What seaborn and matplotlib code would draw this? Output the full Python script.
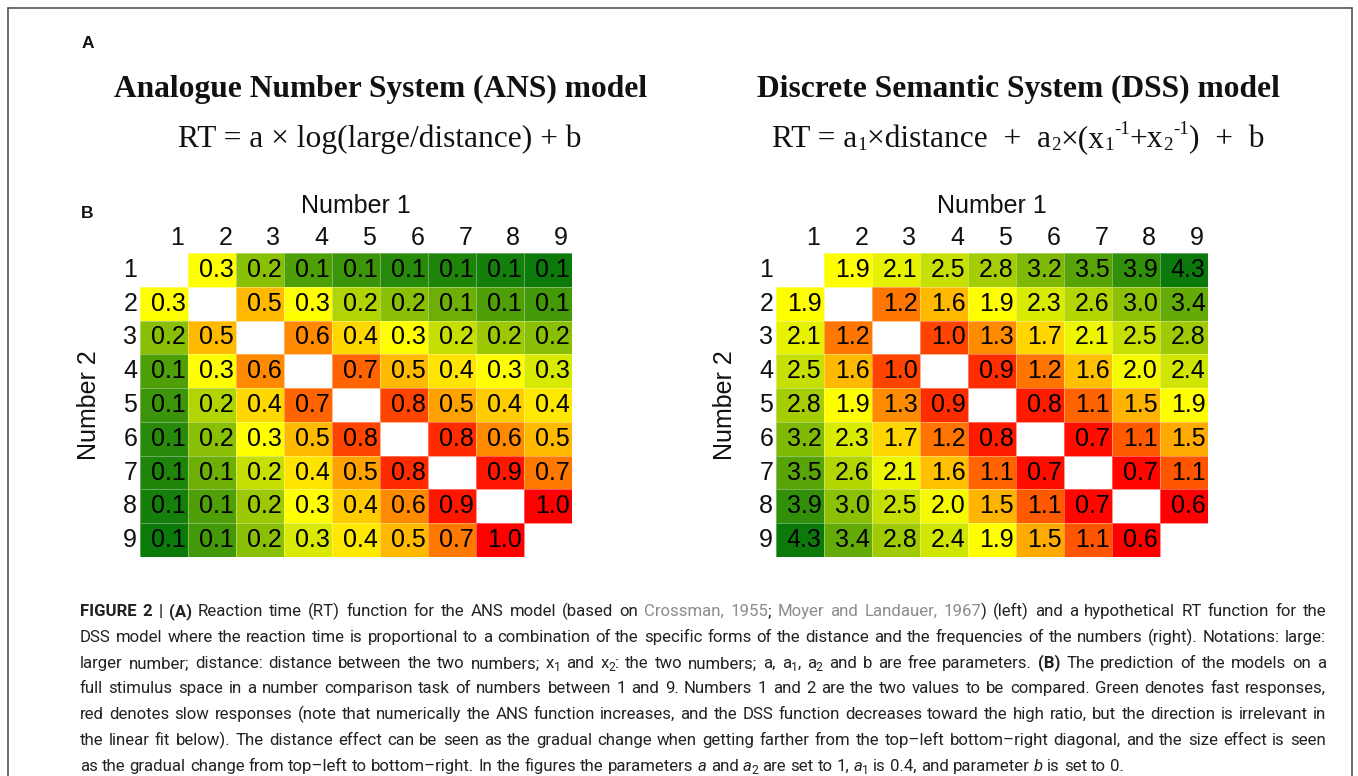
import numpy as np
import pandas as pd
import matplotlib
matplotlib.use("Agg")
import matplotlib.pyplot as plt
import seaborn as sns
from matplotlib.colors import LinearSegmentedColormap, TwoSlopeNorm
from matplotlib.transforms import IdentityTransform
from matplotlib.lines import Line2D
from matplotlib import font_manager

# ---------------- data ----------------
numbers = [1, 2, 3, 4, 5, 6, 7, 8, 9]
nan = np.nan

# ANS model prediction: rows = Number 2, columns = Number 1
ans_values = [
    [nan, 0.30, 0.18, 0.12, 0.10, 0.08, 0.07, 0.06, 0.05],
    [0.30, nan, 0.48, 0.30, 0.22, 0.18, 0.15, 0.12, 0.11],
    [0.18, 0.48, nan, 0.60, 0.40, 0.30, 0.24, 0.20, 0.18],
    [0.12, 0.30, 0.60, nan, 0.70, 0.48, 0.37, 0.30, 0.26],
    [0.10, 0.22, 0.40, 0.70, nan, 0.78, 0.54, 0.43, 0.36],
    [0.08, 0.18, 0.30, 0.48, 0.78, nan, 0.85, 0.60, 0.48],
    [0.07, 0.15, 0.24, 0.37, 0.54, 0.85, nan, 0.90, 0.65],
    [0.06, 0.12, 0.20, 0.30, 0.43, 0.60, 0.90, nan, 0.96],
    [0.05, 0.11, 0.18, 0.26, 0.36, 0.48, 0.65, 0.96, nan],
]

# DSS model prediction: rows = Number 2, columns = Number 1
dss_values = [
    [nan, 1.90, 2.13, 2.46, 2.80, 3.17, 3.54, 3.93, 4.31],
    [1.90, nan, 1.23, 1.56, 1.90, 2.27, 2.64, 3.03, 3.41],
    [2.13, 1.23, nan, 0.98, 1.33, 1.70, 2.08, 2.46, 2.84],
    [2.46, 1.56, 0.98, nan, 0.86, 1.22, 1.59, 1.98, 2.36],
    [2.80, 1.90, 1.33, 0.86, nan, 0.77, 1.14, 1.53, 1.91],
    [3.17, 2.27, 1.70, 1.22, 0.77, nan, 0.71, 1.09, 1.48],
    [3.54, 2.64, 2.08, 1.59, 1.14, 0.71, nan, 0.67, 1.06],
    [3.93, 3.03, 2.46, 1.98, 1.53, 1.09, 0.67, nan, 0.64],
    [4.31, 3.41, 2.84, 2.36, 1.91, 1.48, 1.06, 0.64, nan],
]

title_ans = "Analogue Number System (ANS) model"
title_dss = "Discrete Semantic System (DSS) model"
formula_ans = [("RT = a × log(large/distance) + b", "n")]
formula_dss = [("RT = a", "n"), ("1", "sub"), ("×distance  +  a", "n"), ("2", "sub"),
               ("×(x", "n"), ("1", "sub"), ("-1", "sup"), ("+x", "n"), ("2", "sub"),
               ("-1", "sup"), (")  +  b", "n")]
x_label = "Number 1"
y_label = "Number 2"

caption_lines = [
    "*FIGURE 2 | (A)* Reaction time (RT) function for the ANS model (based on ~Crossman, 1955~; ~Moyer and Landauer, 1967~) (left) and a hypothetical RT function for the",
    "DSS model where the reaction time is proportional to a combination of the specific forms of the distance and the frequencies of the numbers (right). Notations: large:",
    "larger number; distance: distance between the two numbers; x_1 and x_2: the two numbers; a, a_1, a_2 and b are free parameters. *(B)* The prediction of the models on a",
    "full stimulus space in a number comparison task of numbers between 1 and 9. Numbers 1 and 2 are the two values to be compared. Green denotes fast responses,",
    "red denotes slow responses (note that numerically the ANS function increases, and the DSS function decreases toward the high ratio, but the direction is irrelevant in",
    "the linear fit below). The distance effect can be seen as the gradual change when getting farther from the top–left bottom–right diagonal, and the size effect is seen",
    "as the gradual change from top–left to bottom–right. In the figures the parameters `a` and `a_2` are set to 1, `a_1` is 0.4, and parameter `b` is set to 0.",
]

# ---------------- style ----------------
sns.set_theme(style="white")
plt.rcParams["font.family"] = ["Liberation Sans", "DejaVu Sans"]

W, H = 1358, 776
fig = plt.figure(figsize=(W / 100, H / 100), dpi=100)
fig.patch.set_facecolor("white")
renderer = fig.canvas.get_renderer()
PIX = IdentityTransform()


def fx(x):
    return x / W


def fy(y):
    return 1 - y / H


GREEN = "#0b7a0b"
YELLOW = "#ffff00"
RED = "#ff0000"
cmap_ans = LinearSegmentedColormap.from_list("gyr", [GREEN, YELLOW, RED])
cmap_dss = LinearSegmentedColormap.from_list("ryg", [RED, YELLOW, GREEN])

CELL_FS = 18
INK = "#111111"


def draw_heat(left_px, values, cmap):
    top_px, bottom_px = 253, 557
    width_px = 432
    ax = fig.add_axes([fx(left_px), fy(bottom_px), width_px / W, (bottom_px - top_px) / H])
    df = pd.DataFrame(values, index=numbers, columns=numbers)
    arr = df.to_numpy()
    off = arr[~np.isnan(arr)]
    norm = TwoSlopeNorm(vmin=off.min(), vcenter=np.median(off), vmax=off.max())
    sns.heatmap(df, ax=ax, mask=df.isna(), cmap=cmap, norm=norm, annot=True,
                fmt=".1f", cbar=False,
                annot_kws=dict(color="black", fontsize=CELL_FS),
                linewidths=0.5, linecolor=(1, 1, 1, 0.35))
    for t in ax.texts:
        x, y = t.get_position()
        t.set_position((x + 0.45, y))
        t.set_ha("right")
    ax.xaxis.tick_top()
    ax.set_xticks(np.arange(len(numbers)) + 0.92)
    ax.set_xticklabels(numbers, rotation=0, ha="right", fontsize=CELL_FS)
    ax.set_yticks(np.arange(len(numbers)) + 0.5)
    ax.set_yticklabels(numbers, rotation=0, va="center", fontsize=CELL_FS)
    ax.tick_params(axis="both", length=0, colors=INK)
    ax.tick_params(axis="x", pad=2)
    ax.tick_params(axis="y", pad=2)
    ax.xaxis.set_label_position("top")
    ax.set_xlabel(x_label, fontsize=CELL_FS, labelpad=9.5, color=INK)
    ax.set_ylabel(y_label, fontsize=CELL_FS, labelpad=16, color=INK)
    for s in ax.spines.values():
        s.set_visible(False)
    return ax


draw_heat(140, ans_values, cmap_ans)
draw_heat(776, dss_values, cmap_dss)


def adv_width(s, **kw):
    """Advance width of s (spaces included) in pixels."""
    t1 = fig.text(0, 0, "|" + s + "|", transform=PIX, **kw)
    t2 = fig.text(0, 0, "||", transform=PIX, **kw)
    w = t1.get_window_extent(renderer).width - t2.get_window_extent(renderer).width
    t1.remove()
    t2.remove()
    return w


# ---------------- titles / formulas ----------------
TITLE_FS = 22.7
SERIF = ["Liberation Serif", "DejaVu Serif"]
fig.text(fx(381), fy(97), title_ans, ha="center", va="baseline", fontsize=TITLE_FS,
         family=SERIF, fontweight="bold", color=INK)
fig.text(fx(1018), fy(97), title_dss, ha="center", va="baseline", fontsize=TITLE_FS,
         family=SERIF, fontweight="bold", color=INK)


def draw_formula(runs, cx, baseline_top, fs):
    px_per_pt = 100 / 72
    specs = []
    for s, kind in runs:
        size = fs if kind == "n" else fs * 0.6
        dy = 0
        if kind == "sub":
            dy = -0.10 * fs * px_per_pt
        elif kind == "sup":
            dy = 0.40 * fs * px_per_pt
        w = adv_width(s, fontsize=size, family=SERIF)
        specs.append((s, size, dy, w))
    total = sum(sp[3] for sp in specs)
    x = cx - total / 2
    yb = H - baseline_top
    for s, size, dy, w in specs:
        fig.text(x, yb + dy, s, transform=PIX, ha="left", va="baseline", fontsize=size,
                 family=SERIF, color=INK)
        x += w


draw_formula(formula_ans, 380, 147, TITLE_FS)
draw_formula(formula_dss, 1018, 147, TITLE_FS)

fig.text(fx(88), fy(44), "A", ha="center", va="center", fontsize=12.5, fontweight="bold",
         family=["Liberation Sans", "DejaVu Sans"], color=INK)
fig.text(fx(87), fy(213), "B", ha="center", va="center", fontsize=12.5, fontweight="bold",
         family=["Liberation Sans", "DejaVu Sans"], color=INK)

# ---------------- frame ----------------
frame_kw = dict(color="#555555", linewidth=1.2, transform=PIX)
fig.add_artist(Line2D([7.5, 7.5], [H - 8, -5], **frame_kw))
fig.add_artist(Line2D([7.5, 1351.5], [H - 8, H - 8], **frame_kw))
fig.add_artist(Line2D([1351.5, 1351.5], [H - 8, -5], **frame_kw))

# ---------------- caption (justified) ----------------
try:
    font_manager.findfont(font_manager.FontProperties(family="Liberation Sans Narrow"),
                          fallback_to_default=False)
    CAP_FAMILY = ["Liberation Sans Narrow", "DejaVu Sans"]
except Exception:
    CAP_FAMILY = ["Roboto", "DejaVu Sans"]

TXT = "#222222"
GRAY = "#8c8c8c"
cap_x0, cap_x1 = 80, 1326
base0, line_step = 616, 25.8


def parse_line(s):
    words, runs = [], []
    bold = gray = ital = False
    sub = False
    for ch in s:
        if ch == "*":
            bold = not bold
            continue
        if ch == "~":
            gray = not gray
            continue
        if ch == "`":
            ital = not ital
            continue
        if ch == "_":
            sub = True
            continue
        if ch == " ":
            if runs:
                words.append(runs)
                runs = []
            continue
        st = (bold, gray, ital and not sub, sub)
        if runs and runs[-1][1] == st:
            runs[-1][0] += ch
        else:
            runs.append([ch, st])
        sub = False
    if runs:
        words.append(runs)
    return words


def style_kw(st, fs):
    bold, gray, ital, sub = st
    return dict(fontsize=fs * (0.72 if sub else 1.0),
                fontweight="bold" if bold else "normal",
                fontstyle="italic" if ital else "normal",
                color=GRAY if gray else TXT,
                family=CAP_FAMILY)


NORMAL = (False, False, False, False)
parsed = [parse_line(l) for l in caption_lines]

# choose the size so that the longest line fits the column with normal spaces
base_fs = 12.0


def natural_width(words, fs):
    sp = adv_width(" ", **style_kw(NORMAL, fs))
    tot = sum(sum(adv_width(r[0], **style_kw(r[1], fs)) for r in w) for w in words)
    return tot + sp * (len(words) - 1)


widest = max(natural_width(w, base_fs) for w in parsed[:-1])
CAP_FS = base_fs * (cap_x1 - cap_x0) / widest * 0.985
space_w = adv_width(" ", **style_kw(NORMAL, CAP_FS))
sub_drop = CAP_FS * 100 / 72 * 0.22

for k, words in enumerate(parsed):
    widths = [[adv_width(r[0], **style_kw(r[1], CAP_FS)) for r in w] for w in words]
    total = sum(sum(rw) for rw in widths)
    last = k == len(parsed) - 1
    gap = space_w if last else (cap_x1 - cap_x0 - total) / (len(words) - 1)
    x = cap_x0
    yb = H - (base0 + k * line_step)
    for w, rw in zip(words, widths):
        for (s, st), wd in zip(w, rw):
            yy = yb - (sub_drop if st[3] else 0)
            fig.text(x, yy, s, transform=PIX, ha="left", va="baseline", **style_kw(st, CAP_FS))
            x += wd
        x += gap

fig.savefig("out.png", dpi=100, facecolor="white")
